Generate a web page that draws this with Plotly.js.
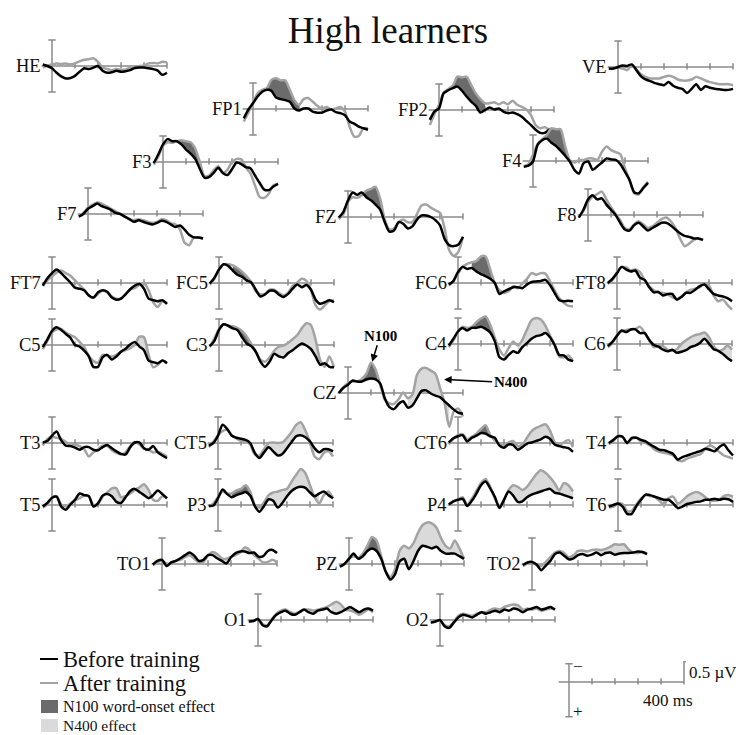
<!DOCTYPE html>
<html><head><meta charset="utf-8">
<script src="https://cdn.plot.ly/plotly-3.0.1.min.js"></script>
<style>html,body{margin:0;padding:0;background:#fff}</style>
</head><body><div id="chart" style="width:736px;height:735px"></div>
<script>
// time points (ms)
const times = [-40,-20,0,20,40,60,80,100,120,140,160,180,200,220,240,260,280,300,320,340,360,380,400,420,440,460,480,500];
const electrodes = ['HE','VE','FP1','FP2','F3','F4','F7','FZ','F8','FT7','FC5','FC6','FT8','C5','C3','C4','C6','CZ','T3','CT5','CT6','T4','T5','P3','P4','T6','TO1','PZ','TO2','O1','O2'];

// amplitudes in microvolts (negative plotted up)
const HE_before = [-0.03,0,0.045,0.13,0.2,0.24,0.23,0.19,0.11,0.045,0.06,0.03,0,0.09,0.13,0.12,0.09,0.11,0.1,0.08,0.04,0.03,0.03,0.045,0.06,0.09,0.17,0.13];
const HE_after  = [0.03,-0.01,-0.03,-0.05,-0.04,-0.05,-0.03,-0.05,-0.09,-0.12,-0.13,-0.15,-0.08,0.03,0.06,0.08,0.06,0.07,0.07,0.03,0.01,0,-0.01,-0.05,-0.06,-0.05,-0.08,-0.07];
const VE_before = [0.03,0.03,0,-0.03,-0.02,-0.05,0.06,0.18,0.24,0.27,0.31,0.33,0.35,0.29,0.36,0.4,0.42,0.5,0.42,0.33,0.44,0.37,0.4,0.42,0.43,0.44,0.44,0.42];
const VE_after  = [0.03,0.02,0.01,0.03,0.06,-0.03,0.05,0.14,0.19,0.22,0.22,0.22,0.19,0.17,0.19,0.24,0.26,0.26,0.24,0.19,0.22,0.26,0.29,0.31,0.33,0.33,0.33,0.35];
const FP1_before = [0.18,0.01,-0.11,-0.24,-0.33,-0.37,-0.35,-0.22,-0.19,-0.17,-0.14,-0.01,0.03,-0.01,-0.01,0.05,0.07,0.07,0.03,0.01,0.06,0.08,0.12,0.24,0.28,0.34,0.37,0.4];
const FP1_after  = [0.24,0.07,-0.12,-0.3,-0.37,-0.4,-0.56,-0.59,-0.55,-0.55,-0.37,-0.17,-0.08,-0.19,-0.21,-0.14,-0.06,-0.01,-0.04,0.01,-0.01,-0.04,0.05,0.34,0.53,0.52,0.37,0.37];
const FP2_before = [0.19,0.03,-0.03,-0.32,-0.38,-0.42,-0.45,-0.37,-0.26,-0.16,-0.08,0.05,0,-0.05,-0.01,-0.03,0.03,0.06,0.05,0.08,0.13,0.21,0.29,0.38,0.44,0.44,0.38,0.37];
const FP2_after  = [0.29,0.08,-0.1,-0.33,-0.4,-0.47,-0.64,-0.63,-0.64,-0.48,-0.32,-0.21,-0.13,-0.13,-0.15,-0.11,-0.15,-0.11,-0.18,-0.1,-0.06,-0.01,0.1,0.29,0.35,0.33,0.38,0.4];
const F3_before = [0.02,-0.15,-0.34,-0.44,-0.4,-0.4,-0.34,-0.24,-0.16,-0.06,0.13,0.3,0.29,0.21,0.11,0.21,0.25,0.14,0.01,0.04,0.1,0.12,0.26,0.4,0.53,0.54,0.47,0.42];
const F3_after  = [0.05,-0.11,-0.31,-0.38,-0.37,-0.4,-0.42,-0.4,-0.38,-0.26,0,0.27,0.26,0.16,0.08,0.21,0.15,0,-0.06,-0.05,0.1,0.22,0.45,0.67,0.69,0.61,0.45,0.42];
const F4_before = [0.11,0.09,0.01,-0.31,-0.4,-0.43,-0.35,-0.29,-0.2,-0.1,0.01,0.17,0.24,0.04,0.01,0.17,0.1,0.03,-0.05,-0.03,-0.02,0.06,0.21,0.37,0.6,0.62,0.52,0.42];
const F4_after  = [0.1,0.06,-0.12,-0.33,-0.42,-0.5,-0.63,-0.61,-0.61,-0.28,-0.02,0.03,-0.02,-0.02,-0.05,-0.05,-0.02,-0.18,-0.28,-0.21,-0.17,-0.13,0.14,0.37,0.62,0.64,0.5,0.4];
const F7_before = [0.05,0,-0.1,-0.15,-0.2,-0.15,-0.12,-0.08,-0.02,0,0.05,0.1,0.15,0.12,0.15,0.18,0.2,0.17,0.13,0.15,0.2,0.25,0.22,0.3,0.4,0.45,0.45,0.47];
const F7_after  = [0.05,-0.02,-0.12,-0.18,-0.22,-0.2,-0.15,-0.1,-0.05,0,0.05,0.1,0.12,0.1,0.12,0.15,0.17,0.15,0.1,0.12,0.18,0.2,0.3,0.55,0.6,0.45,0.45,0.47];
const FZ_before = [0.01,-0.1,-0.32,-0.47,-0.43,-0.47,-0.38,-0.32,-0.24,-0.14,0.1,0.28,0.26,0.1,0.13,0.22,0.18,0.05,-0.03,-0.03,0,0.06,0.16,0.42,0.54,0.56,0.53,0.38];
const FZ_after  = [0.04,-0.05,-0.29,-0.38,-0.37,-0.42,-0.51,-0.54,-0.58,-0.35,0.05,0.24,0.22,0.1,0.05,0.1,0.1,-0.06,-0.22,-0.24,-0.18,-0.13,-0.08,0.22,0.64,0.75,0.67,0.38];
const F8_before = [0.05,-0.1,-0.3,-0.38,-0.3,-0.32,-0.2,-0.1,0,0.15,0.28,0.3,0.2,0.15,0.22,0.3,0.25,0.2,0.15,0.15,0.2,0.28,0.35,0.4,0.42,0.45,0.45,0.48];
const F8_after  = [0.05,-0.08,-0.25,-0.35,-0.4,-0.45,-0.3,-0.15,-0.02,0.1,0.25,0.28,0.18,0.12,0.18,0.25,0.22,0.15,0.08,0.05,0.12,0.25,0.45,0.6,0.55,0.48,0.45,0.48];
const FT7_before = [0.05,-0.09,-0.19,-0.26,-0.19,-0.1,-0.01,0.09,0.11,0.14,0.24,0.28,0.18,0.14,0.17,0.28,0.32,0.3,0.22,0.12,0.05,0.02,0.11,0.3,0.33,0.35,0.33,0.4];
const FT7_after  = [0.06,-0.05,-0.12,-0.2,-0.24,-0.19,-0.14,-0.05,0.04,0.13,0.24,0.29,0.21,0.15,0.18,0.26,0.3,0.3,0.21,0.12,0.1,0.03,0,0.14,0.37,0.46,0.35,0.4];
const FC5_before = [0.01,-0.1,-0.26,-0.36,-0.33,-0.24,-0.16,-0.12,-0.05,-0.01,0.13,0.26,0.22,0.15,0.15,0.22,0.27,0.21,0.11,0.03,0.08,0.04,0.13,0.32,0.4,0.37,0.33,0.37];
const FC5_after  = [0.03,-0.08,-0.26,-0.36,-0.36,-0.34,-0.29,-0.22,-0.13,-0.02,0.16,0.22,0.21,0.13,0.13,0.19,0.24,0.19,0.06,-0.01,-0.08,-0.04,0.14,0.43,0.51,0.43,0.35,0.33];
const FC6_before = [0.03,-0.04,-0.21,-0.31,-0.27,-0.29,-0.22,-0.17,-0.13,-0.08,0,0.21,0.16,0.12,0.08,0.08,0.1,0.03,-0.02,-0.03,-0.04,-0.06,0.04,0.19,0.33,0.35,0.34,0.35];
const FC6_after  = [0.05,-0.03,-0.18,-0.31,-0.37,-0.4,-0.42,-0.51,-0.51,-0.26,0,0.14,0.19,0.16,0.06,0.1,0.01,-0.08,-0.19,-0.16,-0.19,-0.18,-0.03,0.14,0.29,0.38,0.44,0.45];
const FT8_before = [0,-0.08,-0.19,-0.31,-0.26,-0.22,-0.24,-0.1,-0.06,0.08,0.18,0.17,0.24,0.21,0.21,0.32,0.27,0.19,0.19,0.13,0.06,0.03,0.12,0.21,0.24,0.26,0.29,0.35];
const FT8_after  = [0.02,-0.05,-0.21,-0.31,-0.3,-0.24,-0.26,-0.21,-0.06,0.06,0.14,0.19,0.19,0.22,0.27,0.31,0.26,0.18,0.13,0.11,0.08,0.01,0.05,0.24,0.35,0.32,0.42,0.51];
const C5_before = [0.04,-0.11,-0.27,-0.34,-0.29,-0.21,-0.14,0,0.03,0.11,0.22,0.42,0.42,0.24,0.19,0.28,0.22,0.13,0.07,-0.01,-0.06,0.03,0.1,0.3,0.33,0.35,0.3,0.35];
const C5_after  = [0.08,-0.08,-0.24,-0.3,-0.31,-0.24,-0.19,-0.15,-0.06,0.04,0.21,0.31,0.34,0.19,0.21,0.22,0.19,0.13,0.1,0.06,0,-0.16,-0.15,0.19,0.43,0.38,0.3,0.35];
const C3_before = [0.02,-0.08,-0.29,-0.4,-0.37,-0.32,-0.29,-0.15,-0.03,0.02,0.13,0.32,0.42,0.32,0.17,0.22,0.24,0.16,0.1,0.03,-0.03,0.01,0.08,0.22,0.38,0.35,0.42,0.43];
const C3_after  = [0.04,-0.13,-0.31,-0.4,-0.37,-0.36,-0.33,-0.27,-0.17,-0.02,0.13,0.28,0.32,0.24,0.11,0.03,0.01,-0.04,-0.11,-0.19,-0.32,-0.42,-0.38,-0.1,0.29,0.42,0.22,0.43];
const C4_before = [0.03,-0.1,-0.24,-0.31,-0.26,-0.31,-0.31,-0.33,-0.29,-0.22,-0.05,0.25,0.3,0.21,0.14,0.17,0.06,-0.02,-0.1,-0.15,-0.17,-0.21,-0.13,0.02,0.21,0.22,0.3,0.33];
const C4_after  = [0.06,-0.07,-0.24,-0.33,-0.31,-0.33,-0.42,-0.49,-0.53,-0.37,-0.12,0.11,0.22,0.08,-0.05,0.03,-0.08,-0.28,-0.46,-0.5,-0.47,-0.35,-0.16,0.01,0.24,0.26,0.22,0.33];
const C6_before = [0.04,-0.04,-0.16,-0.26,-0.23,-0.28,-0.28,-0.21,-0.21,-0.08,0.02,0.05,0.11,0.14,0.11,0.17,0.15,0.12,0.06,0.03,-0.02,-0.1,-0.01,0.1,0.13,0.19,0.27,0.33];
const C6_after  = [0.06,-0.01,-0.17,-0.24,-0.27,-0.28,-0.29,-0.33,-0.22,-0.07,0.06,0.04,0.04,0.11,0.13,0.1,0,-0.07,-0.13,-0.17,-0.19,-0.22,-0.13,0.04,0.13,0.11,0.03,0.11];
const CZ_before = [0,-0.1,-0.16,-0.24,-0.22,-0.22,-0.26,-0.28,-0.26,-0.18,0.1,0.27,0.31,0.21,0.16,0.28,0.24,0.1,-0.04,-0.05,0.01,0.05,0.08,0.16,0.24,0.32,0.38,0.4];
const CZ_after  = [0,-0.11,-0.19,-0.22,-0.22,-0.27,-0.37,-0.58,-0.45,-0.16,0.13,0.2,0.21,0.12,-0.01,0.1,0.03,-0.35,-0.47,-0.48,-0.43,-0.37,-0.1,0.19,0.65,0.35,0.3,0.45];
const T3_before = [-0.01,-0.04,-0.14,-0.22,-0.05,0.05,0.06,0.09,0.13,0.08,0.08,0.13,0.14,0.08,0.04,0.1,0.16,0.21,0.22,0.08,-0.01,-0.01,0.1,0.13,0.06,0.18,0.24,0.29];
const T3_after  = [0.05,-0.08,-0.12,-0.1,-0.08,-0.02,0.03,0.04,0.06,0.12,0.26,0.18,0.12,0.05,0.05,0.14,0.19,0.22,0.18,0.06,-0.02,0.03,0.11,0.13,0.18,0.17,0.21,0.26];
const CT5_before = [0.05,0,-0.14,-0.35,-0.27,-0.14,-0.1,-0.08,-0.06,0,0.19,0.29,0.18,0.08,0.16,0.24,0.21,0.1,-0.02,-0.13,-0.15,-0.11,-0.03,0.1,0.18,0.12,0.12,0.16];
const CT5_after  = [0.08,-0.03,-0.15,-0.23,-0.25,-0.15,-0.09,-0.04,-0.03,0.03,0.22,0.24,0.12,0,-0.01,0,-0.01,-0.1,-0.21,-0.35,-0.4,-0.24,-0.01,0.26,0.31,0.19,0.16,0.26];
const CT6_before = [-0.01,-0.09,-0.13,-0.15,-0.03,-0.1,-0.14,-0.19,-0.18,-0.13,-0.1,0.05,0.09,0.03,0.04,0.13,0.08,0.01,-0.01,-0.04,-0.07,-0.12,-0.08,0.03,0.06,0.08,0.1,0.17];
const CT6_after  = [0.03,-0.08,-0.15,-0.17,-0.07,-0.12,-0.18,-0.27,-0.34,-0.15,-0.05,0.03,0.04,-0.01,-0.04,0.06,0.03,-0.1,-0.23,-0.29,-0.33,-0.36,-0.24,-0.02,0.04,-0.01,-0.06,0.08];
const T4_before = [0,-0.06,-0.13,-0.12,0,-0.1,-0.1,-0.06,-0.03,0.03,0.08,0.13,0.14,0.17,0.21,0.32,0.27,0.24,0.21,0.18,0.15,0.11,0.13,0.16,0.08,0.03,0.14,0.24];
const T4_after  = [0.03,-0.04,-0.13,-0.12,0.01,-0.08,-0.1,-0.03,0,0.05,0.13,0.17,0.19,0.21,0.24,0.33,0.35,0.3,0.27,0.24,0.21,0.11,0.05,0.09,0.17,0.24,0.27,0.3];
const T5_before = [0.03,-0.04,-0.14,-0.16,0.03,0.09,-0.01,-0.1,-0.22,-0.19,-0.17,0.03,-0.03,-0.18,-0.21,-0.17,-0.06,-0.04,-0.15,-0.27,-0.31,-0.25,-0.19,-0.13,-0.19,-0.28,-0.21,-0.13];
const T5_after  = [0.05,-0.01,-0.14,-0.17,-0.01,0.03,-0.03,-0.09,-0.13,-0.18,-0.17,0,-0.03,-0.16,-0.24,-0.32,-0.32,-0.15,-0.17,-0.22,-0.29,-0.34,-0.4,-0.29,-0.1,-0.08,-0.17,-0.13];
const P3_before = [0.02,0.01,-0.13,-0.3,-0.21,-0.15,-0.19,-0.22,-0.25,-0.18,0.02,0.13,0.02,-0.11,-0.08,0.05,-0.04,-0.17,-0.27,-0.33,-0.35,-0.33,-0.24,-0.17,-0.22,-0.26,-0.19,-0.13];
const P3_after  = [0.03,-0.03,-0.15,-0.26,-0.22,-0.22,-0.28,-0.31,-0.38,-0.26,0,0.05,-0.05,-0.19,-0.24,-0.26,-0.29,-0.31,-0.45,-0.58,-0.69,-0.61,-0.38,-0.15,-0.03,-0.19,-0.26,-0.13];
const P4_before = [-0.01,-0.07,-0.1,-0.12,0.02,-0.08,-0.22,-0.38,-0.45,-0.32,-0.16,0.06,-0.1,-0.26,-0.18,-0.06,-0.07,-0.15,-0.2,-0.23,-0.26,-0.29,-0.31,-0.24,-0.22,-0.19,-0.16,-0.13];
const P4_after  = [0,-0.07,-0.11,-0.15,-0.01,-0.12,-0.27,-0.42,-0.5,-0.35,-0.13,0.01,-0.1,-0.29,-0.38,-0.35,-0.29,-0.35,-0.47,-0.59,-0.67,-0.62,-0.53,-0.42,-0.28,-0.42,-0.38,-0.26];
const T6_before = [0.03,0,-0.03,0.03,0.17,0.17,0.02,-0.1,-0.2,-0.19,-0.16,-0.13,-0.1,-0.1,-0.03,0.06,0.03,-0.02,-0.04,-0.06,-0.07,-0.1,-0.1,-0.12,-0.1,-0.12,-0.11,-0.06];
const T6_after  = [0.05,0.03,-0.03,-0.02,0.12,0.11,-0.01,-0.12,-0.19,-0.17,-0.15,-0.08,-0.01,-0.13,-0.16,-0.03,-0.08,-0.17,-0.22,-0.25,-0.22,-0.15,-0.09,-0.08,-0.1,-0.17,-0.19,-0.16];
const TO1_before = [0.01,-0.06,-0.08,0.04,-0.03,-0.06,-0.11,-0.17,-0.22,-0.16,-0.06,-0.08,-0.17,-0.17,-0.11,-0.06,-0.01,-0.13,-0.21,-0.24,-0.24,-0.21,-0.22,-0.14,-0.15,-0.25,-0.27,-0.21];
const TO1_after  = [0.03,-0.03,-0.06,-0.01,-0.01,-0.06,-0.08,-0.13,-0.17,-0.1,-0.03,-0.04,-0.16,-0.23,-0.19,-0.11,-0.1,-0.14,-0.17,-0.22,-0.32,-0.27,-0.17,-0.1,-0.03,-0.04,-0.08,-0.03];
const PZ_before = [0.05,0,-0.1,-0.2,-0.1,-0.15,-0.25,-0.3,-0.25,-0.1,0.15,0.3,0.2,-0.05,-0.1,0.1,-0.05,-0.25,-0.35,-0.33,-0.3,-0.33,-0.25,-0.2,-0.2,-0.2,-0.15,-0.1];
const PZ_after  = [0.05,0,-0.1,-0.15,-0.12,-0.2,-0.35,-0.52,-0.45,-0.15,0.15,0.25,0.1,-0.25,-0.35,-0.3,-0.4,-0.6,-0.75,-0.8,-0.78,-0.7,-0.5,-0.35,-0.3,-0.45,-0.3,-0.1];
const TO2_before = [0.02,-0.03,-0.04,0.01,0.12,0.03,-0.06,-0.19,-0.22,-0.16,-0.09,-0.11,-0.17,-0.19,-0.16,-0.18,-0.22,-0.17,-0.21,-0.22,-0.18,-0.2,-0.21,-0.21,-0.22,-0.24,-0.23,-0.19];
const TO2_after  = [0.04,-0.01,-0.03,0.02,0.04,-0.04,-0.13,-0.22,-0.25,-0.21,-0.13,-0.17,-0.25,-0.26,-0.24,-0.27,-0.28,-0.27,-0.29,-0.33,-0.38,-0.37,-0.38,-0.28,-0.22,-0.21,-0.23,-0.21];
const O1_before = [0.03,0.02,-0.02,0.1,0.12,0,-0.1,-0.15,-0.18,-0.12,-0.1,-0.15,-0.2,-0.15,-0.12,-0.18,-0.2,-0.22,-0.15,-0.12,-0.15,-0.2,-0.25,-0.2,-0.15,-0.2,-0.22,-0.18];
const O1_after  = [0.03,0.02,-0.02,0.08,0.1,-0.02,-0.12,-0.18,-0.2,-0.15,-0.12,-0.15,-0.2,-0.2,-0.18,-0.2,-0.22,-0.25,-0.3,-0.35,-0.3,-0.2,-0.18,-0.15,-0.1,-0.15,-0.2,-0.15];
const O2_before = [0.05,0.03,0,0.12,0.15,0.05,-0.05,-0.1,-0.08,-0.05,-0.1,-0.15,-0.12,-0.15,-0.18,-0.15,-0.2,-0.18,-0.22,-0.2,-0.15,-0.2,-0.22,-0.25,-0.2,-0.22,-0.25,-0.2];
const O2_after  = [0.05,0.03,0,0.1,0.12,0.03,-0.08,-0.12,-0.1,-0.08,-0.12,-0.15,-0.15,-0.2,-0.22,-0.2,-0.25,-0.28,-0.3,-0.28,-0.2,-0.22,-0.2,-0.22,-0.18,-0.2,-0.22,-0.2];

// effect windows (ms)
const n100Window = {FP1:[60,200],FP2:[60,200],F3:[60,160],F4:[60,160],FZ:[60,160],FC5:[60,160],FC6:[60,160],C3:[60,160],C4:[60,160],CZ:[60,160],CT6:[60,160],P3:[60,160],P4:[60,160],PZ:[60,160]};
const n400Window = {C5:[340,440],C3:[240,440],C4:[260,440],C6:[260,500],CZ:[260,440],CT5:[200,420],CT6:[260,440],T5:[220,440],P3:[220,440],P4:[200,500],T6:[260,500],TO1:[200,420],PZ:[200,500],TO2:[280,440],O1:[320,420],O2:[320,420]};
const tickTimes = [100,200,300,400,500];
const legendLabels = ['Before training','After training','N100 word-onset effect','N400 effect'];

const series = {
 HE:[HE_before,HE_after],VE:[VE_before,VE_after],FP1:[FP1_before,FP1_after],FP2:[FP2_before,FP2_after],
 F3:[F3_before,F3_after],F4:[F4_before,F4_after],F7:[F7_before,F7_after],FZ:[FZ_before,FZ_after],F8:[F8_before,F8_after],
 FT7:[FT7_before,FT7_after],FC5:[FC5_before,FC5_after],FC6:[FC6_before,FC6_after],FT8:[FT8_before,FT8_after],
 C5:[C5_before,C5_after],C3:[C3_before,C3_after],C4:[C4_before,C4_after],C6:[C6_before,C6_after],CZ:[CZ_before,CZ_after],
 T3:[T3_before,T3_after],CT5:[CT5_before,CT5_after],CT6:[CT6_before,CT6_after],T4:[T4_before,T4_after],
 T5:[T5_before,T5_after],P3:[P3_before,P3_after],P4:[P4_before,P4_after],T6:[T6_before,T6_after],
 TO1:[TO1_before,TO1_after],PZ:[PZ_before,PZ_after],TO2:[TO2_before,TO2_after],O1:[O1_before,O1_after],O2:[O2_before,O2_after]
};

// ---- layout (pixel positions of each panel origin: [x of 0 ms, y of baseline]) ----
const panelPos = {HE:[52,66],VE:[618,67],FP1:[253,109],FP2:[439,110],F3:[163,162],F4:[533,161],F7:[88,214],FZ:[348,217],F8:[588,215],
 FT7:[52,283],FC5:[219,283],FC6:[458,283],FT8:[617,283],C5:[52,345],C3:[219,345],C4:[458,344],C6:[617,344],CZ:[348,393],
 T3:[52,443],CT5:[218,443],CT6:[458,443],T4:[618,443],T5:[52,505],P3:[218,505],P4:[458,505],T6:[618,505],
 TO1:[162,564],PZ:[349,564],TO2:[532,564],O1:[258,620],O2:[440,620],SCALE:[569,682]};
const W=736,H=735,PXMS=0.23,PXUV=52,YR=1.0;
const BLACK='#000000', GRAY='#a3a3a3', DARK='#6b6b6b', LIGHT='#dadada', AXC='#8a8a8a';
const SERIF='Liberation Serif, Times New Roman, serif';

const layout = {width:W,height:H,margin:{l:0,r:0,t:0,b:0},paper_bgcolor:'#fff',plot_bgcolor:'rgba(0,0,0,0)',showlegend:false,
  title:{text:'High learners',x:388/W,xanchor:'center',y:1-30/H,yanchor:'middle',font:{family:SERIF,size:37,color:'#111'}},
  shapes:[],annotations:[]};
const traces=[];

function addAxes(name, idx, xmax){
  const [x0,y0]=panelPos[name];
  const xmin=-50;
  const xs = idx===1?'':String(idx);
  layout['xaxis'+xs]={domain:[(x0+xmin*PXMS)/W,(x0+xmax*PXMS)/W],range:[xmin,xmax],visible:false,fixedrange:true,anchor:'y'+xs};
  layout['yaxis'+xs]={domain:[1-(y0+YR*PXUV)/H,1-(y0-YR*PXUV)/H],range:[YR,-YR],visible:false,fixedrange:true,anchor:'x'+xs};
  return ['x'+xs,'y'+xs];
}
function axisPath(top,bottom){
  let p=`M -45,0 L 500,0 M 0,${top} L 0,${bottom} M -16,${top} L 16,${top} M -16,${bottom} L 16,${bottom}`;
  tickTimes.forEach(t=>{p+=` M ${t},-0.07 L ${t},0.05`;});
  return p;
}
function windowed(arr,w){const xs=[],ys=[];times.forEach((t,k)=>{if(t>=w[0]&&t<=w[1]){xs.push(t);ys.push(arr[k]);}});return [xs,ys];}
const LINE={shape:'spline',smoothing:0.7};

electrodes.forEach((name,i)=>{
  const [xr,yr]=addAxes(name,i+1,510);
  const [b,a]=series[name];
  layout.shapes.push({type:'path',xref:xr,yref:yr,path:axisPath(-0.5,0.5),line:{color:AXC,width:1.5},layer:'below'});
  [[n100Window,DARK],[n400Window,LIGHT]].forEach(([win,col])=>{
    if(!win[name]) return;
    const [wx,wb]=windowed(b,win[name]); const [,wa]=windowed(a,win[name]);
    traces.push({x:wx,y:wb,xaxis:xr,yaxis:yr,mode:'lines',line:Object.assign({width:0},LINE),hoverinfo:'skip'});
    traces.push({x:wx,y:wa,xaxis:xr,yaxis:yr,mode:'lines',line:Object.assign({width:0},LINE),fill:'tonexty',fillcolor:col,hoverinfo:'skip'});
  });
  traces.push({x:times,y:a,xaxis:xr,yaxis:yr,mode:'lines',line:Object.assign({color:GRAY,width:2.5},LINE),name:legendLabels[1]});
  traces.push({x:times,y:b,xaxis:xr,yaxis:yr,mode:'lines',line:Object.assign({color:BLACK,width:2.5},LINE),name:legendLabels[0]});
  layout.annotations.push({xref:xr,yref:yr,x:-45,y:0,text:name,xanchor:'right',yanchor:'middle',showarrow:false,xshift:1,
    font:{family:SERIF,size:18.5,color:'#111'}});
});

// scale bar panel
const [sxr,syr]=addAxes('SCALE',electrodes.length+1,540);
layout.shapes.push({type:'path',xref:sxr,yref:syr,path:axisPath(-0.35,0.67)+' M 500,0 L 500,-0.39 L 508,-0.39',line:{color:AXC,width:1.5},layer:'below'});
layout.annotations.push({xref:sxr,yref:syr,x:38,y:-0.29,text:'\u2212',showarrow:false,xanchor:'center',yanchor:'middle',font:{family:SERIF,size:17,color:'#111'}});
layout.annotations.push({xref:sxr,yref:syr,x:38,y:0.56,text:'+',showarrow:false,xanchor:'center',yanchor:'middle',font:{family:SERIF,size:17,color:'#111'}});
layout.annotations.push({xref:sxr,yref:syr,x:514,y:-0.19,text:'0.5 \u00b5V',showarrow:false,xanchor:'left',yanchor:'middle',font:{family:SERIF,size:17,color:'#111'}});
layout.annotations.push({xref:sxr,yref:syr,x:430,y:0.35,text:'400 ms',showarrow:false,xanchor:'center',yanchor:'middle',font:{family:SERIF,size:17,color:'#111'}});

// N100 / N400 arrows on CZ
const czIdx = electrodes.indexOf('CZ')+1;
layout.annotations.push({xref:'x'+czIdx,yref:'y'+czIdx,x:105,y:-0.6,ax:8,ay:-26,text:'<b>N100</b>',showarrow:true,arrowhead:2,arrowsize:1,arrowwidth:1.5,arrowcolor:'#000',font:{family:SERIF,size:15,color:'#000'}});
layout.annotations.push({xref:'x'+czIdx,yref:'y'+czIdx,x:418,y:-0.26,ax:66,ay:3,text:'<b>N400</b>',showarrow:true,arrowhead:2,arrowsize:1,arrowwidth:1.5,arrowcolor:'#000',font:{family:SERIF,size:15,color:'#000'}});

// legend (paper coords)
const py = v=>1-v/H, px = v=>v/W;
layout.shapes.push({type:'line',xref:'paper',yref:'paper',x0:px(40),x1:px(58),y0:py(659),y1:py(659),line:{color:BLACK,width:2}});
layout.shapes.push({type:'line',xref:'paper',yref:'paper',x0:px(40),x1:px(58),y0:py(683),y1:py(683),line:{color:GRAY,width:2}});
layout.shapes.push({type:'rect',xref:'paper',yref:'paper',x0:px(41),x1:px(58),y0:py(713),y1:py(700),line:{width:0},fillcolor:DARK});
layout.shapes.push({type:'rect',xref:'paper',yref:'paper',x0:px(41),x1:px(58),y0:py(732),y1:py(719),line:{width:0},fillcolor:LIGHT});
[[legendLabels[0],659,22.5],[legendLabels[1],683,22.5],[legendLabels[2],706,16],[legendLabels[3],725,15.5]].forEach(([t,y,s])=>{
  layout.annotations.push({xref:'paper',yref:'paper',x:px(61),y:py(y),text:t,showarrow:false,xanchor:'left',yanchor:'middle',font:{family:SERIF,size:s,color:'#111'}});
});

Plotly.newPlot('chart',traces,layout,{staticPlot:true,displayModeBar:false});
</script></body></html>
